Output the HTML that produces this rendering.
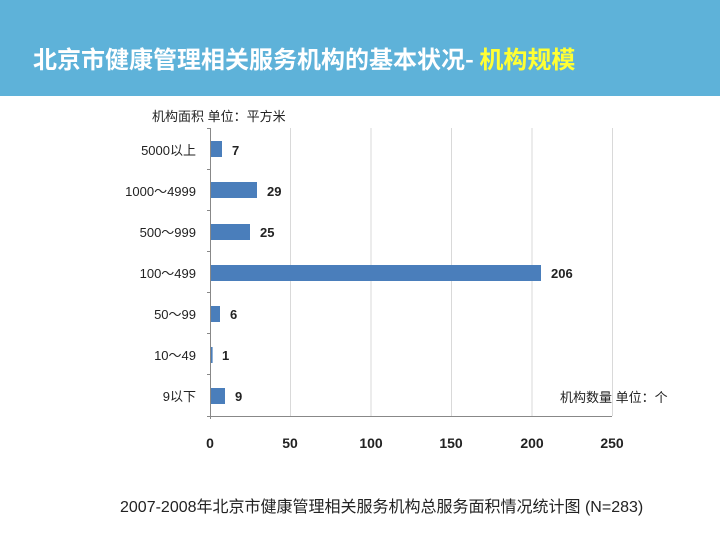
<!DOCTYPE html>
<html><head><meta charset="utf-8"><style>
body{margin:0;width:720px;height:540px;background:#fff;overflow:hidden;font-family:"Liberation Sans","Noto Sans CJK SC",sans-serif;}
.hd{position:absolute;left:0;top:0;width:720px;height:96px;background:#5eb2d9;}
.t{position:absolute;left:33px;top:40px;font-size:24px;font-weight:bold;color:#fff;white-space:nowrap;font-family:"Noto Sans CJK SC",sans-serif;}
.t span{color:#ffff33;}
</style></head><body>
<div class="hd"><div class="t">北京市健康管理相关服务机构的基本状况- <span>机构规模</span></div></div>
<svg width="720" height="540" style="position:absolute;left:0;top:0" font-family="Liberation Sans, Noto Sans CJK SC, sans-serif">
<text x="152" y="121" font-size="13" fill="#222">机构面积 单位：平方米</text>
<g stroke="#d9d9d9" stroke-width="1">
<line x1="290.5" y1="128" x2="290.5" y2="416"/><line x1="371" y1="128" x2="371" y2="416"/>
<line x1="451.5" y1="128" x2="451.5" y2="416"/><line x1="532" y1="128" x2="532" y2="416"/>
<line x1="612.5" y1="128" x2="612.5" y2="416"/>
</g>
<g stroke="#888" stroke-width="1">
<line x1="210.5" y1="128" x2="210.5" y2="419"/>
<line x1="207" y1="416.5" x2="612" y2="416.5"/>
<line x1="207" y1="128.5" x2="210" y2="128.5"/><line x1="207" y1="169.5" x2="210" y2="169.5"/>
<line x1="207" y1="210.5" x2="210" y2="210.5"/><line x1="207" y1="251.5" x2="210" y2="251.5"/>
<line x1="207" y1="292.5" x2="210" y2="292.5"/><line x1="207" y1="333.5" x2="210" y2="333.5"/>
<line x1="207" y1="374.5" x2="210" y2="374.5"/>
</g>
<g fill="#4a7ebb">
<rect x="211" y="141" width="11" height="16"/>
<rect x="211" y="182" width="46" height="16"/>
<rect x="211" y="224" width="39" height="16"/>
<rect x="211" y="265" width="330" height="16"/>
<rect x="211" y="306" width="9" height="16"/>
<rect x="211" y="347" width="1.6" height="16"/>
<rect x="211" y="388" width="14" height="16"/>
</g>
<g font-size="13" fill="#222" font-weight="bold">
<text x="232" y="155">7</text><text x="267" y="196">29</text><text x="260" y="237">25</text>
<text x="551" y="278">206</text><text x="230" y="319">6</text><text x="222" y="360">1</text><text x="235" y="401">9</text>
</g>
<g font-size="13" fill="#222" text-anchor="end">
<text x="196" y="155">5000以上</text><text x="196" y="196">1000～4999</text><text x="196" y="237">500～999</text>
<text x="196" y="278">100～499</text><text x="196" y="319">50～99</text><text x="196" y="360">10～49</text><text x="196" y="401">9以下</text>
</g>
<g font-size="14" fill="#222" text-anchor="middle" font-weight="bold">
<text x="210" y="448">0</text><text x="290" y="448">50</text><text x="371" y="448">100</text>
<text x="451" y="448">150</text><text x="532" y="448">200</text><text x="612" y="448">250</text>
</g>
<text x="560" y="402" font-size="13" fill="#222">机构数量 单位：个</text>
<text x="120" y="512" font-size="16" fill="#222">2007-2008年北京市健康管理相关服务机构总服务面积情况统计图 (N=283)</text>
</svg>
</body></html>
